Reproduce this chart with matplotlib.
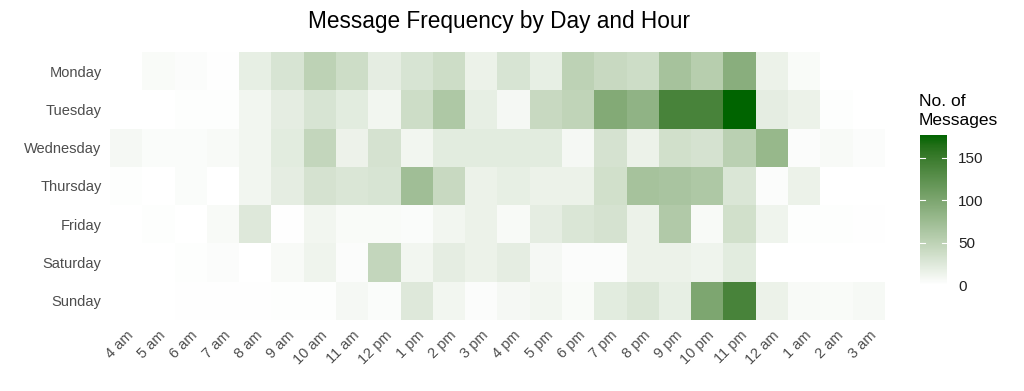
import numpy as np
import matplotlib
matplotlib.use("Agg")
import matplotlib.pyplot as plt
from matplotlib.colors import LinearSegmentedColormap

plt.rcParams['font.family'] = ['Liberation Sans', 'DejaVu Sans']

days = ['Monday', 'Tuesday', 'Wednesday', 'Thursday', 'Friday', 'Saturday', 'Sunday']
hours = ['4 am', '5 am', '6 am', '7 am', '8 am', '9 am', '10 am', '11 am', '12 pm',
         '1 pm', '2 pm', '3 pm', '4 pm', '5 pm', '6 pm', '7 pm', '8 pm', '9 pm',
         '10 pm', '11 pm', '12 am', '1 am', '2 am', '3 am']

# message counts, one row per day, columns follow hours
monday = [0, 5, 3, 1, 18, 30, 50, 38, 20, 30, 38, 15, 30, 18, 50, 42, 38, 68, 55, 90, 15, 5, 0, 0]
tuesday = [0, 0, 2, 2, 10, 20, 30, 22, 10, 38, 62, 18, 8, 42, 48, 95, 85, 140, 140, 177, 20, 15, 2, 0]
wednesday = [8, 4, 4, 6, 10, 22, 45, 14, 32, 10, 22, 22, 22, 22, 8, 32, 15, 35, 32, 52, 80, 3, 6, 3]
thursday = [2, 0, 4, 0, 10, 20, 32, 28, 30, 72, 42, 15, 18, 15, 15, 35, 68, 65, 62, 28, 3, 15, 0, 0]
friday = [0, 2, 0, 6, 25, 1, 10, 5, 5, 4, 10, 15, 6, 20, 28, 32, 15, 60, 6, 35, 12, 2, 2, 1]
saturday = [0, 0, 2, 3, 0, 6, 12, 3, 45, 10, 20, 15, 20, 8, 3, 3, 15, 15, 12, 22, 0, 0, 0, 0]
sunday = [0, 0, 1, 1, 1, 2, 2, 8, 4, 25, 10, 3, 8, 10, 5, 22, 28, 18, 100, 140, 15, 6, 5, 7]

counts = np.array([monday, tuesday, wednesday, thursday, friday, saturday, sunday])


def lab_to_rgb(L, a, b):
    fy = (L + 16) / 116
    fx = fy + a / 500
    fz = fy - b / 200
    def finv(t):
        return t ** 3 if t > 6 / 29 else 3 * (6 / 29) ** 2 * (t - 4 / 29)
    X, Y, Z = 0.95047 * finv(fx), finv(fy), 1.08883 * finv(fz)
    r = 3.2406 * X - 1.5372 * Y - 0.4986 * Z
    g = -0.9689 * X + 1.8758 * Y + 0.0415 * Z
    bl = 0.0557 * X - 0.2040 * Y + 1.0570 * Z
    out = []
    for c in (r, g, bl):
        c = 12.92 * c if c <= 0.0031308 else 1.055 * c ** (1 / 2.4) - 0.055
        out.append(min(max(c, 0), 1))
    return out


# white -> darkgreen interpolated in Lab, like ggplot's gradient
lo = np.array([100.0, 0.0, 0.0])
hi = np.array([36.2, -43.4, 41.9])
stops = [lab_to_rgb(*(lo + t * (hi - lo))) for t in np.linspace(0, 1, 16)]
cmap = LinearSegmentedColormap.from_list('wg', stops)

fig = plt.figure(figsize=(10.24, 3.91), dpi=100)
ax = fig.add_axes([0.1074, 0.182, 0.7568, 0.685])
im = ax.pcolormesh(counts, cmap=cmap, vmin=0, vmax=177)
ax.set_xlim(0, len(hours))
ax.set_ylim(len(days), 0)
ax.set_xticks(np.arange(len(hours)) + 0.5)
ax.set_xticklabels(hours, rotation=45, ha='right', rotation_mode='anchor',
                   fontsize=10.5, color='#4d4d4d')
ax.set_yticks(np.arange(len(days)) + 0.5)
ax.set_yticklabels(days, fontsize=10.5, color='#4d4d4d')
ax.tick_params(length=0, pad=6)
for s in ax.spines.values():
    s.set_visible(False)

fig.suptitle('Message Frequency by Day and Hour', x=0.487, y=0.975, fontsize=16.3)

cax = fig.add_axes([0.898, 0.271, 0.027, 0.384])
cb = fig.colorbar(im, cax=cax, ticks=[0, 50, 100, 150])
cb.outline.set_visible(False)
cax.tick_params(length=0, labelsize=11, colors='#222222', pad=8)
for v in [50, 100, 150]:
    cax.plot([0, 0.2], [v, v], color='white', lw=0.8, transform=cax.get_yaxis_transform())
    cax.plot([0.8, 1], [v, v], color='white', lw=0.8, transform=cax.get_yaxis_transform())
fig.text(0.897, 0.673, 'No. of\nMessages', fontsize=12.5, va='bottom', ha='left',
         linespacing=1.3)

fig.savefig('out.png', dpi=100)
